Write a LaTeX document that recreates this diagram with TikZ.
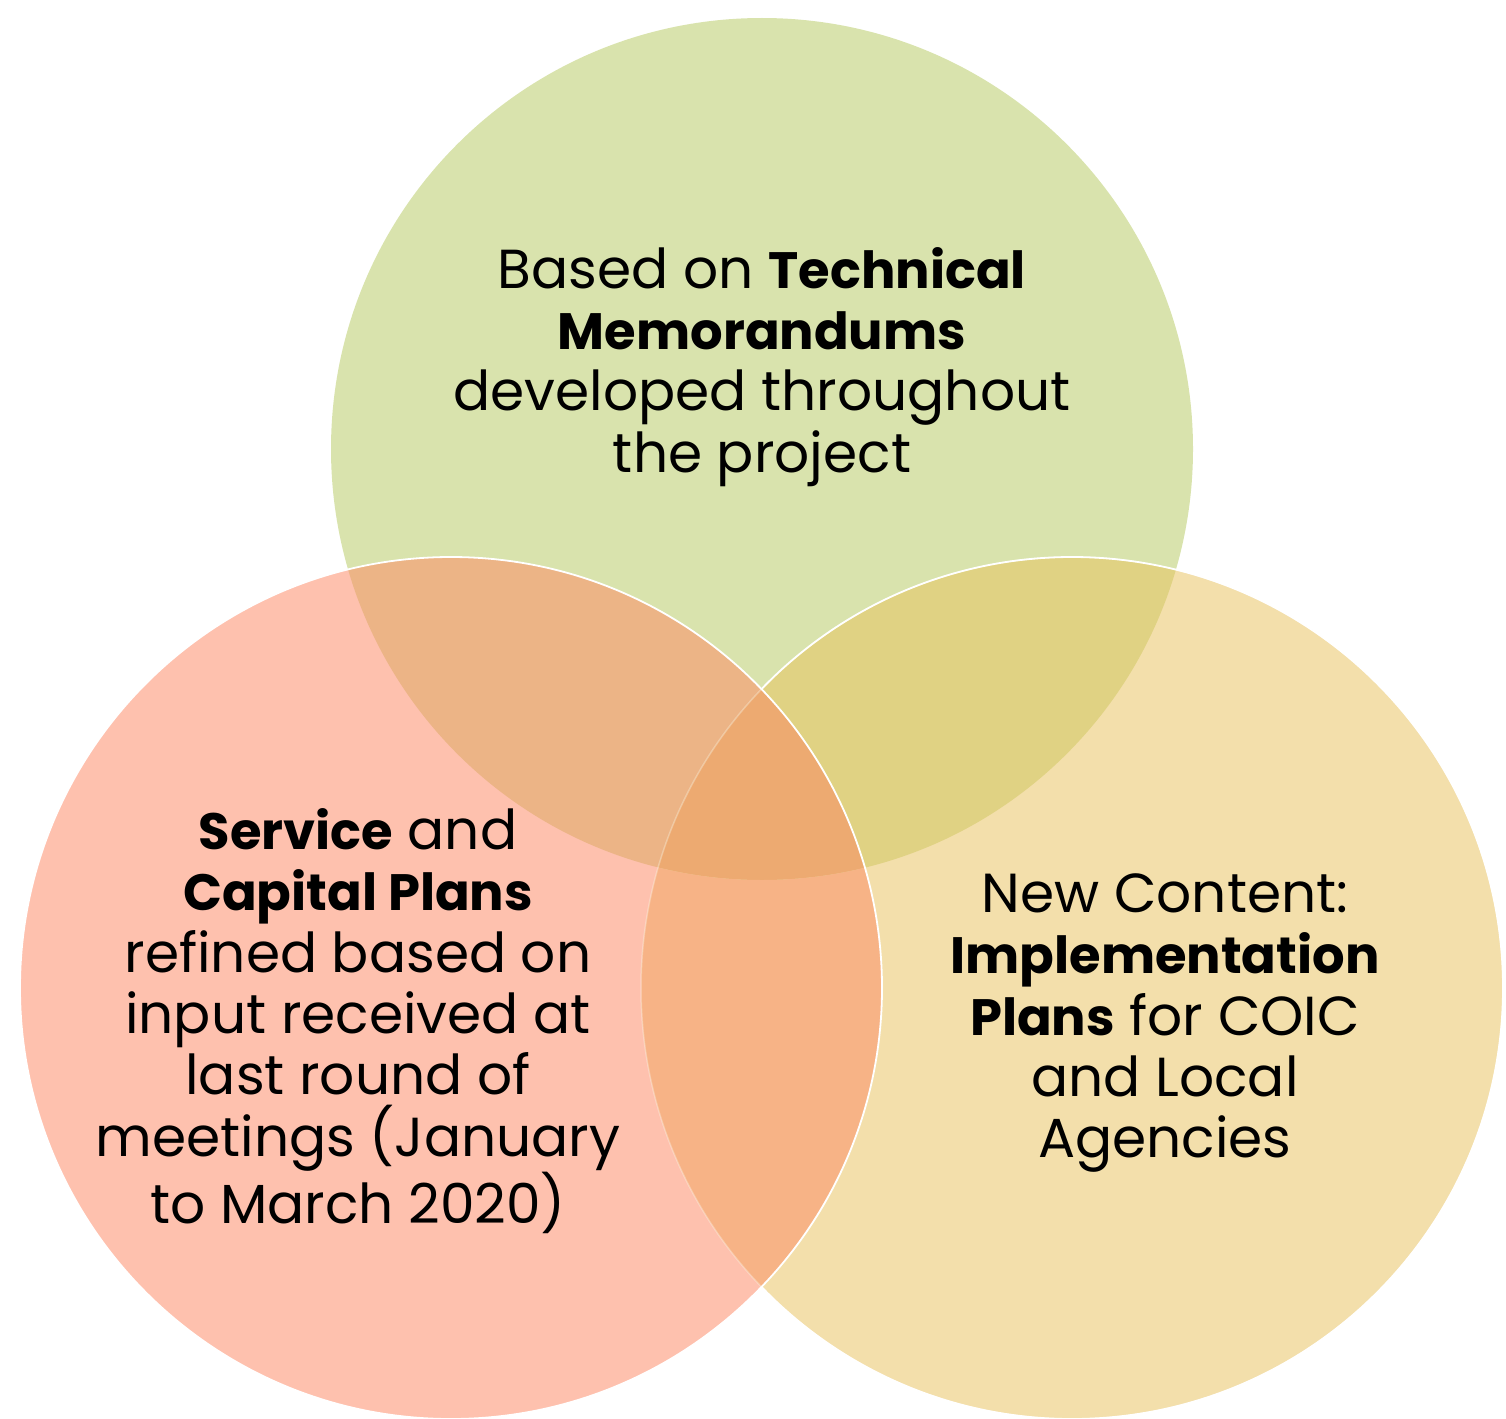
\documentclass[tikz,border=0pt]{standalone}
\usepackage{fontspec}
\setmainfont{Poppins}[BoldFeatures={Scale=0.93}]
\definecolor{cG}{HTML}{D9E3AD}
\definecolor{cS}{HTML}{FEC1AE}
\definecolor{cY}{HTML}{F3DFAB}
\definecolor{cGS}{HTML}{ECB486}
\definecolor{cGY}{HTML}{E0D283}
\definecolor{cSY}{HTML}{F7B386}
\definecolor{cGSY}{HTML}{EDAA71}
\tikzset{
  txt/.style={align=center, text=black, inner sep=0pt, font=\fontsize{55}{61.3}\selectfont},
  rim/.style={draw=white, line width=1.8pt}
}
\begin{document}
\begin{tikzpicture}[x=1pt,y=-1pt]
\useasboundingbox (0,0) rectangle (1506,1418);
\def\R{431pt}
\coordinate (g) at (762,449);
\coordinate (s) at (451,988);
\coordinate (y) at (1072,988);
% base fills
\fill[cG] (g) circle[radius=\R];
\fill[cS] (s) circle[radius=\R];
\fill[cY] (y) circle[radius=\R];
% overlaps
\begin{scope}
  \clip (g) circle[radius=\R];
  \fill[cGS] (s) circle[radius=\R];
  \fill[cGY] (y) circle[radius=\R];
  \clip (s) circle[radius=\R];
  \fill[cGSY] (y) circle[radius=\R];
\end{scope}
\begin{scope}[even odd rule]
  \clip (s) circle[radius=\R];
  \clip (g) circle[radius=\R] (-10,-10) rectangle (1516,1428);
  \fill[cSY, nonzero rule] (y) circle[radius=\R];
\end{scope}
% outlines
\draw[draw=white, draw opacity=0.3, line width=1.5pt] (y) circle[radius=\R];
\begin{scope}[even odd rule]
  \clip (s) circle[radius=\R] (-10,-10) rectangle (1516,1428);
  \draw[rim] (y) circle[radius=\R];
\end{scope}
\draw[rim] (s) circle[radius=\R];
% texts
\node[txt] (tG) at (762,367) {Based on \textbf{Technical}\\\textbf{Memorandums}\\developed throughout\\the project};
\node[txt] (tS) at (358,1021) {\textbf{Service} and\\\textbf{Capital Plans}\\refined based on\\input received at\\last round of\\meetings (January\\to March 2020)};
\node[txt] (tY) at (1165,1023) {New Content:\\\textbf{Implementation}\\\textbf{Plans} for COIC\\and Local\\Agencies};
\end{tikzpicture}
\end{document}
